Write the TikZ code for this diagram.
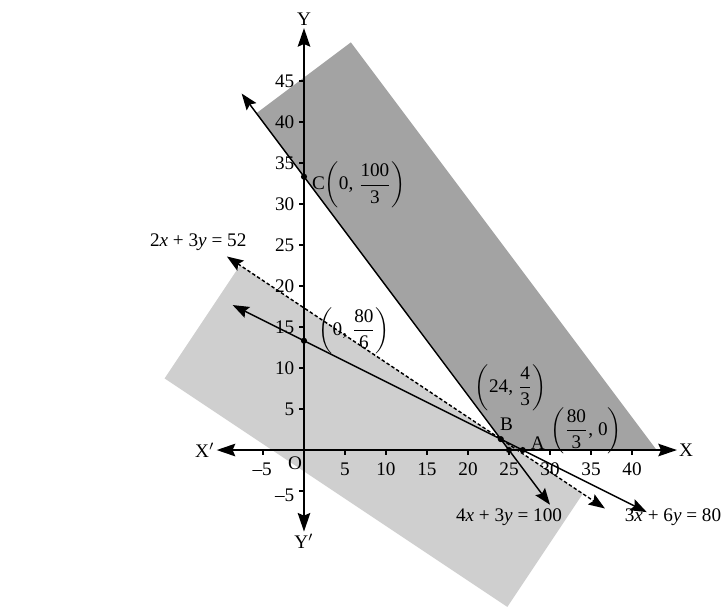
\documentclass[tikz,border=0pt]{standalone}
\usepackage{amsmath,amssymb}
\usepackage{fontspec}
\setmainfont{Liberation Serif}
\usetikzlibrary{arrows.meta,calc}

\newcommand{\frc}[2]{\dfrac{\text{#1}}{\text{#2}}}

\begin{document}
\begin{tikzpicture}[
    x=0.15cm, y=0.15cm,
    font=\fontsize{10}{12}\selectfont,
    darkreg/.style={fill=black!36},
    lightreg/.style={fill=black!19},
    axis/.style={{Stealth[length=3.4mm,width=2.3mm,inset=0.5mm]}-{Stealth[length=3.4mm,width=2.3mm,inset=0.5mm]}, line width=0.8pt},
    bound/.style={{Stealth[length=3mm,width=2.2mm,inset=0.5mm]}-{Stealth[length=3mm,width=2.2mm,inset=0.5mm]}, line width=0.75pt},
    dashbound/.style={bound, dash pattern=on 1.8pt off 1.2pt},
    dot/.style={circle, fill, inner sep=0pt, minimum size=3.2pt},
    tick/.style={line width=0.6pt},
    axlabel/.style={inner sep=1pt},
]

\useasboundingbox (-37.07,-19.63) rectangle (51.34,54.88);

% Shaded regions
\fill[lightreg] (-7.8,22.53) -- (34,-5.33) -- (24.8,-19.13) -- (-17,8.73) -- cycle;
\fill[darkreg] (-5.8,41.07) -- (5.72,49.71) -- (43,0) -- (25,0) -- cycle;

% Axes
\node[axlabel] (X) at (46.6,0) {X};
\node[axlabel] (Xp) at (-12.1,0) {X$'$};
\node[axlabel] (Y) at (0,52.5) {Y};
\node[axlabel] (Yp) at (0,-11.1) {Y$'$};
\draw[axis] (Xp) -- (X);
\draw[axis] (Yp) -- (Y);
\node (O) at (-1.1,-1.6) {O};

% Ticks
\foreach \i in {5,10,...,40} {
    \draw[tick] (\i,0) -- (\i,-0.6);
    \node (xt\i) at (\i,-2.3) {\i};
}
\draw[tick] (-5,0) -- (-5,-0.6);
\node (xtm) at (-5.1,-2.3) {–5};
\foreach \j in {5,10,...,45} {
    \draw[tick] (0,\j) -- (-0.6,\j);
    \node[anchor=east, inner sep=1pt] (yt\j) at (-0.9,\j) {\j};
}
\draw[tick] (0,-5) -- (-0.6,-5);
\node[anchor=east, inner sep=1pt] (ytm) at (-0.9,-5.5) {–5};

% Boundary lines
\coordinate (l1a) at (-7.6,43.47);
\coordinate (l1b) at (30,-6.67);
\coordinate (l2a) at (-9.4,23.6);
\coordinate (l2b) at (36.7,-7.13);
\coordinate (l3a) at (-8.7,17.68);
\coordinate (l3b) at (41.8,-7.57);
\draw[bound] (l1a) -- (l1b);
\draw[dashbound] (l2a) -- (l2b);
\draw[bound] (l3a) -- (l3b);

% Corner points
\node[dot] (C) at (0,33.33) {};
\node[dot] (P) at (0,13.33) {};
\node[dot] (B) at (24,1.33) {};
\node[dot] (Q) at (25,0) {};
\node[dot] (A) at (26.67,0) {};

% Point labels
\node[anchor=west, inner sep=1pt] (Clab) at (0.7,32.3) {C$\left(\text{0, }\frc{100}{3}\right)$};
\node[anchor=west, inner sep=1pt] (Plab) at (1.5,14.6) {$\left(\text{0, }\frc{80}{6}\right)$};
\node (Blab) at (25.2,7.6) {$\left(\text{24, }\frc{4}{3}\right)$};
\node (Bn) at (24.7,3.2) {B};
\node (An) at (28.5,0.9) {A};
\node (Alab) at (34.4,2.4) {$\left(\frc{80}{3}\text{, 0}\right)$};

% Equations
\node (eq2) at (-12.9,25.4) {2\textit{x} + 3\textit{y} = 52};
\node (eq1) at (25,-8.2) {4\textit{x} + 3\textit{y} = 100};
\node (eq3) at (45,-8.2) {3\textit{x} + 6\textit{y} = 80};

\end{tikzpicture}
\end{document}
